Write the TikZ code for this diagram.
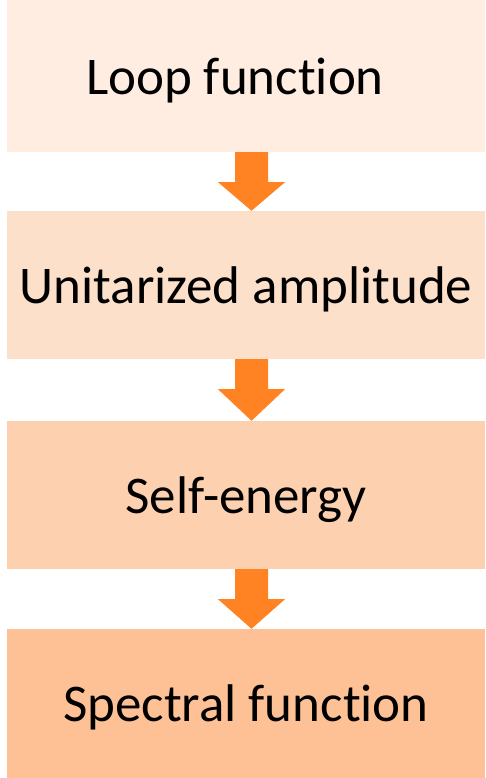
\documentclass[tikz,border=0pt]{standalone}
\usepackage{fontspec}
\setmainfont[RawFeature={-liga;-dlig}]{Carlito}
\usetikzlibrary{calc}
\definecolor{boxA}{RGB}{255,237,225}
\definecolor{boxB}{RGB}{253,224,201}
\definecolor{boxC}{RGB}{253,209,175}
\definecolor{boxD}{RGB}{253,193,149}
\definecolor{flow}{RGB}{255,131,34}
\tikzset{
  stage/.style={rectangle, draw=none, minimum width=478pt, inner sep=0pt,
    font=\fontsize{53}{53}\selectfont, text height=38pt, text depth=1pt},
  blockarrow/.style={fill=flow, draw=none}
}
% block arrow from the bottom of one stage to the top of the next
\newcommand{\stagearrow}[2]{%
  \fill[blockarrow] ($(#1.south)+(-11pt,0)$) -- ($(#1.south)+(22pt,0)$)
    -- ($(#1.south)+(22pt,-30pt)$) -- ($(#1.south)+(39pt,-30pt)$)
    -- ($(#2.north)+(5.5pt,0)$) -- ($(#1.south)+(-28pt,-30pt)$)
    -- ($(#1.south)+(-11pt,-30pt)$) -- cycle;}
\begin{document}
\begin{tikzpicture}[x=1pt,y=1pt]
  \useasboundingbox (0,0) rectangle (485,778);
  \node[stage, fill=boxA, minimum height=152pt] (loop) at (246,702)
    {\hspace*{-22pt}Loop function};
  \node[stage, fill=boxB, minimum height=148pt] (unit) at (246,493) {Unitarized amplitude};
  \node[stage, fill=boxC, minimum height=148pt] (self) at (246,283) {Self-energy};
  \node[stage, fill=boxD, minimum height=149pt] (spec) at (246,74.5) {Spectral function};
  \stagearrow{loop}{unit}
  \stagearrow{unit}{self}
  \stagearrow{self}{spec}
\end{tikzpicture}
\end{document}
